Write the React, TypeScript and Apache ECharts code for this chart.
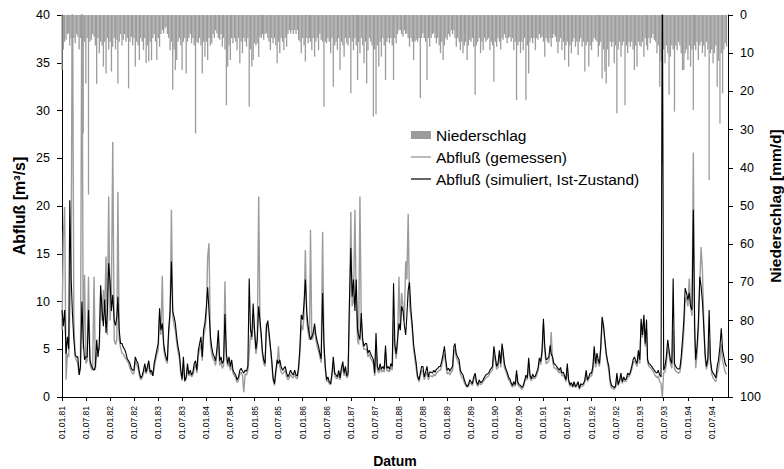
import React, { useEffect, useRef } from "react";
import * as echarts from "echarts";

// Half-year tick labels of the date axis
const tickLabels = [
  "01.01.81", "01.07.81", "01.01.82", "01.07.82", "01.01.83", "01.07.83",
  "01.01.84", "01.07.84", "01.01.85", "01.07.85", "01.01.86", "01.07.86",
  "01.01.87", "01.07.87", "01.01.88", "01.07.88", "01.01.89", "01.07.89",
  "01.01.90", "01.07.90", "01.01.91", "01.07.91", "01.01.92", "01.07.92",
  "01.01.93", "01.07.93", "01.01.94", "01.07.94",
];

// Values per dekad (1st, 11th, 21st of each month), Jan 1981 - Oct 1994
// Abfluß (simuliert, Ist-Zustand) [m³/s]
const simulated = [
  9.1, 7.4, 9.1, 4.5, 6.3, 5, 20.6, 12.6, 8.8, 6, 4.4, 4.2, 4.2, 2.3, 3.2, 10, 6, 3.9,
  4.2, 4.2, 9.1, 3.9, 3.3, 3.0, 2.8, 3.2, 6, 4.2, 5.6, 11.7, 9.1, 7.4, 10.2, 6.7, 8.8, 14,
  12, 9, 10.7, 8, 7.5, 8.4, 10.5, 7, 5.6, 5.6, 5.2, 5, 4.6, 4, 3.8, 3.5, 3, 2.8,
  2.8, 4.2, 3.8, 3.5, 2.6, 2.0, 2.2, 2.8, 3.5, 2.6, 3.2, 3.8, 2.6, 2.8, 2.2, 3.5, 4.2, 4.9,
  5.6, 9.3, 7, 7.7, 5.6, 4.7, 4.2, 3.8, 7, 9.1, 14.2, 9, 8.4, 7.7, 6.3, 5.2, 4.5, 2.8,
  1.9, 4.2, 1.7, 2.1, 3.5, 2.4, 2.8, 2.3, 2.6, 3.5, 3.8, 2.8, 4.9, 5.6, 6.3, 4.2, 7, 7.7,
  9.4, 11.5, 9, 6.3, 5.2, 4.5, 4.2, 3.8, 5, 7, 3.8, 4.2, 3.5, 3.8, 8.7, 4.5, 3.5, 4.2,
  3.2, 3.9, 2.8, 2.5, 2.3, 1.8, 2.1, 2.8, 3.0, 2.7, 2.5, 2.8, 2.7, 3.2, 12.4, 7, 6.3, 9.8,
  7, 5, 6, 9.5, 8, 6.5, 4.8, 3.9, 3.5, 7.4, 8, 6.7, 5.3, 3.9, 2, 1.4, 2.8, 3.9,
  3.5, 3.9, 3.2, 2.8, 3.0, 3.2, 2.5, 2.1, 2.4, 2.8, 2.5, 2.3, 2.8, 2.3, 2.2, 3.2, 5.3, 8.6,
  8.1, 9.8, 12.3, 8.8, 7.4, 6.5, 6, 6.3, 6.7, 7.7, 6.5, 5.8, 5.3, 4.6, 4, 10.9, 5.6, 3.2,
  1.8, 2.1, 1.6, 1.4, 2.5, 4.2, 2.5, 2.3, 2.1, 2.8, 2.0, 3.0, 3.7, 2.5, 3.2, 2.2, 2.5, 9.8,
  15.6, 10.5, 12.3, 9, 12.3, 7, 6.5, 6, 8.8, 6, 5.3, 5.6, 5.6, 4.6, 4.9, 4.5, 4.2, 3.9,
  2.5, 6.7, 3.2, 2.8, 3.5, 2.9, 3.2, 2.9, 5.4, 3.0, 3.2, 2.9, 3.5, 3.2, 11.9, 5.5, 4.5, 6,
  7.7, 7, 9.5, 9, 7.5, 6.5, 8.5, 11.2, 12, 9.1, 7.5, 5.5, 4.5, 3.5, 2.2, 1.8, 2.5, 3.2,
  3.2, 2.1, 2.6, 3.2, 2.1, 2.6, 2.6, 2.5, 2.8, 2.6, 2.9, 3.0, 3.2, 3.2, 3.8, 4.5, 5.3, 3.9,
  2.8, 3.0, 2.7, 3.0, 3.2, 5.3, 5.6, 4.5, 4.2, 3.9, 2.8, 2.5, 2.3, 1.8, 1.4, 1.1, 1.3, 1.8,
  1.6, 1.4, 2.1, 2.5, 1.6, 1.3, 1.8, 1.5, 1.6, 1.8, 2.1, 2.3, 2.4, 2.5, 2.8, 3.0, 3.2, 5.3,
  4.2, 3.2, 3.5, 4.9, 3.5, 5.6, 4.8, 3.5, 3.0, 2.6, 2.1, 1.9, 1.5, 1.2, 1.6, 1.3, 2.8, 1.5,
  1.3, 1.2, 1.0, 1.2, 1.7, 2.3, 2.0, 4.1, 2.3, 1.9, 2.4, 2.1, 2.2, 2.6, 3.0, 4.1, 3.7, 4.8,
  8.2, 5.3, 3.9, 4.0, 4.2, 5.4, 4.5, 4.2, 3.5, 3.4, 3.2, 3.0, 2.8, 3.1, 2.5, 2.6, 2.2, 1.8,
  3.5, 1.8, 1.3, 1.5, 1.1, 1.6, 1.1, 1.3, 1.6, 0.9, 1.4, 1.3, 1.4, 1.8, 2.8, 1.8, 2.1, 2.5,
  2.5, 3.2, 5.3, 3.5, 4.6, 3.9, 3.5, 5.3, 8.4, 7.5, 6.0, 4.6, 3.8, 3.2, 1.8, 1.2, 1.1, 1.0,
  1.1, 2.5, 1.3, 1.8, 2.5, 1.6, 2.1, 1.8, 1.9, 2.5, 2.3, 2.6, 3.2, 3.9, 4.2, 3.8, 3.5, 4.9,
  3.9, 8.2, 6.5, 8.6, 5.6, 8.1, 3.9, 3.5, 3.4, 3.2, 3.0, 2.8, 2.6, 2.5, 2.8, 2.3, 2.1, 45,
  2.8, 3.2, 4.2, 6.0, 4.9, 3.9, 3.5, 12.4, 3.5, 3.2, 3.0, 2.9, 3.0, 4.2, 6.0, 8, 11.4, 10.9,
  10.2, 10.9, 9.5, 9.1, 19.6, 7.4, 3.9, 5.3, 7.7, 12.6, 11.6, 10, 7.4, 4.6, 3.2, 4, 9.1, 3.9,
  2.8, 2.5, 2.3, 2.0, 3.2, 3.9, 5.3, 7.2, 4.9, 4.2, 3.5, 3.2,
];

// Abfluß (gemessen) [m³/s]
const measured = [
  7, 16.8, 19.9, 1.8, 4.5, 4.2, 9, 14, 45, 8, 4.2, 3.8, 3.5, 2.3, 3, 45, 5, 12.8,
  3.5, 3.8, 12.6, 3.5, 3, 2.8, 12.6, 2.8, 4.5, 4.8, 5, 10.5, 8, 11.2, 9, 14.7, 6.5, 21,
  8, 11, 26.7, 6, 5.5, 6, 21.5, 6, 5.2, 4.6, 4.5, 4.2, 4.0, 3.8, 3.5, 3.0, 2.7, 2.4,
  2.5, 3.8, 3.4, 3.0, 2.3, 1.8, 2.0, 2.5, 3.0, 2.4, 2.8, 3.5, 2.4, 2.5, 2.2, 3.0, 3.8, 4.4,
  5, 8.5, 6.5, 12.7, 5, 4.2, 3.8, 3.5, 6.5, 8.5, 19.6, 8.5, 7.5, 7, 5.7, 4.6, 4, 2.5,
  1.7, 3.5, 1.6, 1.9, 3, 2.2, 2.5, 2.1, 2.3, 3, 3.4, 2.5, 4.3, 5, 5.5, 3.8, 6.3, 7,
  8.5, 14.7, 16.1, 5.5, 4.5, 4, 3.8, 3.3, 4.5, 6, 3.3, 3.8, 3, 3.3, 12.1, 4, 3.2, 3.6,
  2.8, 3.4, 2.5, 2.2, 2.0, 1.5, 1.8, 2.4, 2.6, 2.3, 0.5, 2.4, 2.3, 2.8, 4.5, 6.5, 6, 8.5,
  6.5, 4.5, 5.5, 21, 7.5, 6, 4.5, 3.5, 3.2, 7.7, 7.5, 6.3, 5, 3.5, 1.8, 1.2, 2.5, 3.5,
  5.3, 3.2, 2.6, 2.4, 2.6, 2.8, 2.1, 1.8, 2.0, 2.4, 2.1, 2.0, 2.4, 2.0, 1.9, 2.8, 4.5, 7.5,
  7, 8.5, 15.4, 8, 6.8, 6, 17.5, 6, 6.3, 7.2, 6, 5.3, 4.8, 4.2, 3.6, 17.3, 5, 3,
  1.6, 1.8, 1.4, 1.3, 2.2, 3.5, 2.2, 2.0, 1.9, 2.5, 1.8, 2.6, 3.2, 2.2, 2.8, 2.0, 2.2, 8,
  19.4, 9.5, 10, 19.6, 10, 6, 5.5, 21, 8, 5.5, 5, 5, 5, 4.2, 4.5, 4, 3.8, 3.5,
  2.2, 5.5, 2.8, 2.5, 3.1, 2.6, 2.8, 2.6, 4.8, 2.7, 2.8, 2.6, 3.1, 2.8, 8, 5, 4, 5.5,
  12.6, 7, 10.9, 9.5, 8, 14.2, 12.3, 19.2, 9.5, 8.5, 7, 5, 4, 3, 2, 1.6, 2.2, 2.8,
  2.6, 1.8, 2.2, 2.6, 1.8, 2.2, 2.2, 2.1, 2.4, 2.2, 2.5, 2.6, 2.8, 2.8, 3.3, 4.0, 4.6, 3.4,
  2.4, 2.6, 2.3, 2.6, 2.8, 4.8, 5.0, 4.2, 3.8, 3.4, 2.4, 2.1, 1.9, 1.5, 1.2, 1.0, 1.1, 1.5,
  1.4, 1.2, 1.8, 2.2, 1.4, 1.1, 1.5, 1.3, 1.4, 1.6, 1.8, 2.0, 2.1, 2.2, 2.5, 2.7, 2.8, 4.5,
  3.8, 2.9, 3.1, 4.4, 3.1, 5, 4.4, 3.1, 2.7, 2.3, 1.8, 1.7, 1.3, 1.0, 1.4, 1.1, 2.4, 1.3,
  1.1, 1.0, 0.8, 1.0, 1.5, 2.0, 1.8, 3.6, 2.0, 1.7, 2.1, 1.9, 2.0, 2.3, 2.7, 3.7, 3.4, 4.4,
  7.5, 4.8, 3.5, 3.6, 3.8, 4.8, 6.8, 3.8, 3.1, 3.0, 2.9, 2.7, 2.5, 2.8, 2.2, 2.3, 2.0, 1.6,
  3.0, 1.6, 1.1, 1.3, 1.0, 1.4, 1.0, 1.1, 1.4, 0.8, 1.2, 1.1, 1.2, 1.6, 2.4, 1.6, 1.9, 2.2,
  2.2, 2.8, 4.5, 3.1, 4.0, 3.5, 3.2, 5.0, 7.8, 7.2, 5.8, 4.5, 3.5, 2.8, 1.4, 0.9, 0.9, 0.8,
  1.0, 2.2, 1.2, 1.6, 2.2, 1.4, 1.9, 1.6, 1.7, 2.2, 2.1, 2.4, 2.9, 3.5, 3.8, 3.5, 3.2, 4.4,
  3.5, 7.8, 6.2, 8.0, 5.3, 7.0, 3.6, 3.2, 3.1, 2.9, 2.7, 2.4, 2.2, 2.0, 2.2, 1.6, 1.4, 0,
  2.6, 2.6, 3.4, 5.2, 4.5, 3.5, 3.0, 7.0, 3.0, 2.7, 2.6, 2.5, 2.6, 3.6, 5.0, 7, 10, 10.5,
  9.5, 12.4, 9.5, 8.5, 25.6, 6.5, 3.0, 4.5, 7, 12, 15.7, 13.3, 8, 4.2, 2.9, 3.5, 6, 3.5,
  2.4, 2.0, 1.8, 1.6, 2.4, 3.0, 4.0, 5.5, 3.8, 3.2, 2.6, 2.4,
];

// Niederschlag [mm/d] (largest daily value of each dekad)
const precipitation = [
  14.4, 9, 7, 6.5, 5, 4.8, 8, 6, 17, 6, 7.4, 5, 5.7, 9, 6, 8, 31, 7,
  17.9, 6, 47, 7, 6.5, 5, 5.7, 8, 18, 6, 10, 7, 8, 13.5, 7, 15.3, 6, 9,
  7, 14.8, 8.3, 6, 9, 6.5, 17.9, 7, 5, 8, 6.5, 5, 7, 6, 19.2, 7, 5.7, 8,
  6, 13.5, 7, 8, 11.8, 6, 7, 9.2, 6, 12.6, 8, 12.2, 7, 11.8, 6, 5, 7, 11.8,
  6, 8.3, 5, 4, 4.8, 3.5, 3, 5, 6, 9.2, 7, 19.6, 9, 14.4, 11.8, 7, 6, 8,
  14.4, 7, 6, 15.3, 7, 6, 5, 7.4, 6, 8, 31, 7, 7.4, 6, 8, 15.3, 7, 10.9,
  7, 11.8, 6, 8, 7.4, 5, 6, 4, 4.8, 6, 6.5, 5, 8.3, 6, 9, 23.6, 13.5, 8,
  11.8, 6, 7.4, 6, 7, 9.2, 6, 12.6, 7, 10, 6, 7, 8.3, 6, 24, 9, 13.5, 11.8,
  7.4, 8, 7.4, 11, 5.7, 6, 5, 6.5, 5, 4.8, 6, 7, 9.2, 6, 7.4, 6, 8, 12.6,
  7, 10, 6, 7, 9.2, 6, 8.3, 5, 4, 4.8, 4, 5, 3.9, 5, 4, 6.5, 7, 10,
  6, 8, 12.2, 6, 7.4, 6, 7, 9.2, 6, 10.9, 7, 6, 9.2, 5, 6.5, 7, 24, 7,
  7.4, 6, 7, 10, 6, 18.8, 8, 7, 9.2, 6, 14.4, 7, 8, 10.9, 6, 7.4, 8, 6,
  20.5, 7, 9.2, 6, 8, 17, 7, 10, 6, 8, 12.6, 7, 17.9, 9.2, 6, 7, 8, 26.6,
  9, 26, 8, 13.5, 7, 10.9, 6, 8, 17, 7, 6, 7.4, 6, 8, 17, 6, 7.4, 5,
  4, 3.9, 5, 5.7, 4, 5, 4.8, 6, 8.3, 6, 7, 11.8, 7, 6.5, 7, 6, 21.8, 6,
  4.8, 6, 7, 17, 6, 8.3, 6, 5, 4.8, 6, 7.4, 6, 8, 10, 7, 11.8, 8, 6,
  6.5, 5, 5.7, 4, 5, 3.9, 6, 8.3, 6, 7, 9.2, 7, 10, 8, 7, 11.8, 8, 6.5,
  7, 6, 8.3, 20.9, 8, 7, 6, 10, 7, 9.2, 6, 7, 6.5, 6, 9.2, 7, 8, 17.5,
  7, 8.3, 6, 7, 9, 6, 6.5, 5, 6, 7.4, 6, 5.7, 7, 6, 9.2, 7, 22.3, 8,
  7, 10, 7, 9.2, 6, 22.3, 8, 15.3, 7, 6, 7.4, 6, 9.2, 6, 6.5, 5, 6, 5.7,
  7, 10.9, 6, 7, 7.4, 6, 8.3, 6, 5, 5.7, 7, 10, 7, 6, 9.2, 7, 11.8, 8,
  7, 13.5, 8, 10, 7, 6, 8.3, 7, 10.5, 7, 6, 8.3, 7, 14.8, 8, 7, 13.5, 8,
  9.2, 7, 6, 6.5, 7, 10.9, 8, 7, 16.6, 9, 14.8, 17.9, 9, 13.5, 7, 8.3, 7, 12.6,
  8, 25.7, 9, 7, 10.9, 8, 7, 23.6, 8, 10, 7, 8.3, 7, 9, 14.4, 8, 13.5, 7,
  8, 8.3, 7, 10.9, 6, 8, 9.2, 6, 7.4, 6, 5, 6.5, 7, 10, 8, 18.8, 12, 39,
  9, 12.6, 8, 10, 20.9, 10.9, 8, 9, 25.3, 8, 9.2, 7, 8, 10, 14.4, 14.4, 10, 9,
  11.8, 8, 13.5, 9, 24.9, 8, 9.2, 7, 11.8, 8, 7, 10, 8, 10.9, 7, 9, 43.2, 10,
  9, 12.6, 10, 8, 18.8, 12, 28.4, 10, 20.5, 9, 7.4, 8.3,
];

const FONT = "'Liberation Sans', Arial, Helvetica, sans-serif";
const DAY = 86400000;
const T0 = Date.UTC(1981, 0, 1);
const dayOf = (y: number, m: number, d: number) => Math.round((Date.UTC(y, m, d) - T0) / DAY);
const MAX_DAY = dayOf(1994, 10, 1);

// dekad start days
const dekadDays: number[] = [];
for (let y = 1981; y <= 1994; y++) {
  for (let m = 0; m < 12; m++) {
    if (y === 1994 && m >= 10) break;
    for (const d of [1, 11, 21]) dekadDays.push(dayOf(y, m, d));
  }
}

const tickDays = tickLabels.map((s) => {
  const [dd, mm, yy] = s.split(".").map(Number);
  return dayOf(1900 + yy, mm - 1, dd);
});
const labelByDay = new Map<number, string>();
tickDays.forEach((d, i) => labelByDay.set(d, tickLabels[i]));

const pairs = (vals: number[]) =>
  dekadDays.slice(0, vals.length).map((d, i) => [d, vals[i]]);

const GRAY = "#9c9c9c";

export default function App() {
  const ref = useRef<HTMLDivElement>(null);
  useEffect(() => {
    if (!ref.current) return;
    const chart = echarts.init(ref.current, undefined, { renderer: "svg" });
    const axisText = { color: "#000", fontFamily: FONT };
    chart.setOption({
      animation: false,
      textStyle: { fontFamily: FONT },
      grid: { left: 62, right: 56, top: 15, bottom: 72, containLabel: false, outerBoundsMode: "none" },
      legend: {
        orient: "vertical",
        left: 406,
        top: 122,
        itemWidth: 20,
        itemHeight: 8,
        itemGap: 6,
        symbolKeepAspect: true,
        textStyle: { color: "#000", fontSize: 15.5, fontFamily: FONT },
        data: [
          { name: "Niederschlag", icon: "rect", itemStyle: { color: GRAY } },
          { name: "Abfluß (gemessen)", icon: "path://M0,0H20V1.4H0Z", itemStyle: { color: GRAY } },
          { name: "Abfluß (simuliert, Ist-Zustand)", icon: "path://M0,0H20V1.2H0Z", itemStyle: { color: "#000" } },
        ],
      },
      xAxis: {
        type: "value",
        min: 0,
        max: MAX_DAY,
        name: "Datum",
        nameLocation: "middle",
        nameGap: 57,
        nameMoveOverlap: false,
        nameTextStyle: { ...axisText, fontWeight: "bold", fontSize: 14 },
        axisLine: { show: true, lineStyle: { color: "#000", width: 1 } },
        axisTick: { show: true, customValues: tickDays, length: 4, lineStyle: { color: "#000" } },
        axisLabel: {
          customValues: tickDays,
          rotate: 90,
          fontSize: 8.5,
          margin: 9,
          ...axisText,
          formatter: (v: number) => labelByDay.get(Math.round(v)) ?? "",
        },
        splitLine: { show: false },
      },
      yAxis: [
        {
          type: "value",
          min: 0,
          max: 40,
          interval: 5,
          position: "left",
          name: "Abfluß [m³/s]",
          nameLocation: "middle",
          nameRotate: 90,
          nameGap: 35,
          nameMoveOverlap: false,
          nameTextStyle: { ...axisText, fontWeight: "bold", fontSize: 16 },
          axisLine: { show: true, lineStyle: { color: "#000", width: 1 } },
          axisTick: { show: true, length: 5, lineStyle: { color: "#000" } },
          axisLabel: { ...axisText, fontSize: 12.5, margin: 12 },
          splitLine: { show: false },
        },
        {
          type: "value",
          min: 0,
          max: 100,
          interval: 10,
          inverse: true,
          position: "right",
          name: "Niederschlag [mm/d]",
          nameLocation: "middle",
          nameRotate: 90,
          nameGap: 39,
          nameMoveOverlap: false,
          nameTextStyle: { ...axisText, fontWeight: "bold", fontSize: 15.5 },
          axisLine: { show: true, lineStyle: { color: "#000", width: 1 } },
          axisTick: { show: true, length: 5, lineStyle: { color: "#000" } },
          axisLabel: { ...axisText, fontSize: 12.5, margin: 12 },
          splitLine: { show: false },
        },
      ],
      series: [
        {
          type: "bar",
          name: "Niederschlag",
          yAxisIndex: 1,
          barWidth: 1.3,
          itemStyle: { color: GRAY },
          data: pairs(precipitation),
        },
        {
          type: "line",
          name: "Abfluß (gemessen)",
          yAxisIndex: 0,
          symbol: "none",
          lineStyle: { color: GRAY, width: 1.4 },
          itemStyle: { color: GRAY },
          data: pairs(measured),
        },
        {
          type: "line",
          name: "Abfluß (simuliert, Ist-Zustand)",
          yAxisIndex: 0,
          symbol: "none",
          lineStyle: { color: "#000", width: 1.1 },
          itemStyle: { color: "#000" },
          data: pairs(simulated),
        },
      ],
    });
    return () => chart.dispose();
  }, []);
  return (
    <div
      ref={ref}
      style={{ position: "absolute", left: 0, top: 0, width: 784, height: 469, background: "#fff" }}
    />
  );
}
